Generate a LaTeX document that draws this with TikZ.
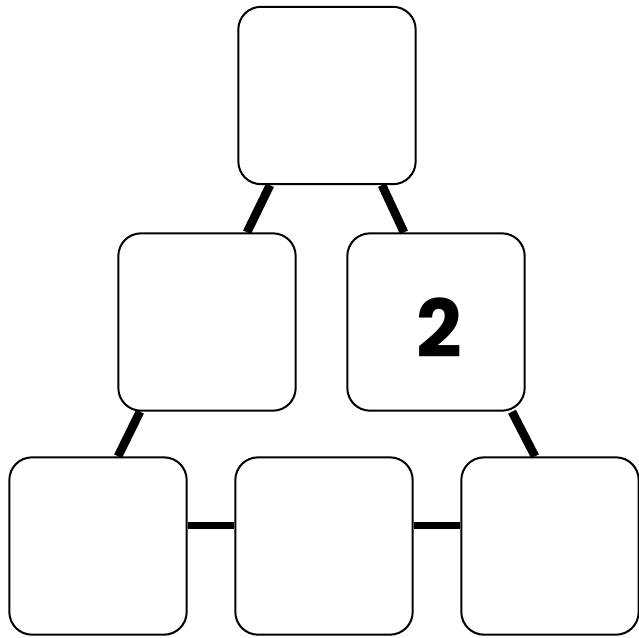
\documentclass[tikz,border=0pt]{standalone}
\usepackage{tikz}
\usepackage{fontspec}
\newfontfamily\numfont{Poppins}

\tikzset{
  cell/.style={draw, fill=white, line width=1.5pt, rounded corners=17pt,
    minimum width=133pt, minimum height=133pt, inner sep=0pt},
  link/.style={line width=6.5pt},
  flatlink/.style={line width=5.25pt},
  num/.style={inner sep=0pt, font=\numfont\bfseries\fontsize{60}{60}\selectfont}
}

\begin{document}
\begin{tikzpicture}[x=0.75pt,y=0.75pt,yscale=-1,xscale=1]
\useasboundingbox (0,0) rectangle (639,637);

% boxes
\node[cell] (top) at (327,95.5) {};
\node[cell] (ml) at (207,322) {};
\node[cell] (mr) at (436,322) {};
\node[cell] (bl) at (98,546) {};
\node[cell] (bm) at (324,546) {};
\node[cell] (br) at (550,546) {};

% number
\node[num] (two) at ([xshift=2.5pt,yshift=4pt]mr.center) {2};

% links
\draw[link] ([xshift=-42.75pt]top.south) -- ([xshift=30pt]ml.north);
\draw[link] ([xshift=41.25pt]top.south) -- ([xshift=-24pt]mr.north);
\draw[link] ([xshift=-50.25pt]ml.south) -- ([xshift=15pt]bl.north);
\draw[link] ([xshift=57pt]mr.south) -- ([xshift=-11.25pt]br.north);
\draw[flatlink] ([yshift=-15.75pt]bl.east) -- ([yshift=-15.75pt]bm.west);
\draw[flatlink] ([yshift=-15.75pt]bm.east) -- ([yshift=-15.75pt]br.west);

\end{tikzpicture}
\end{document}
